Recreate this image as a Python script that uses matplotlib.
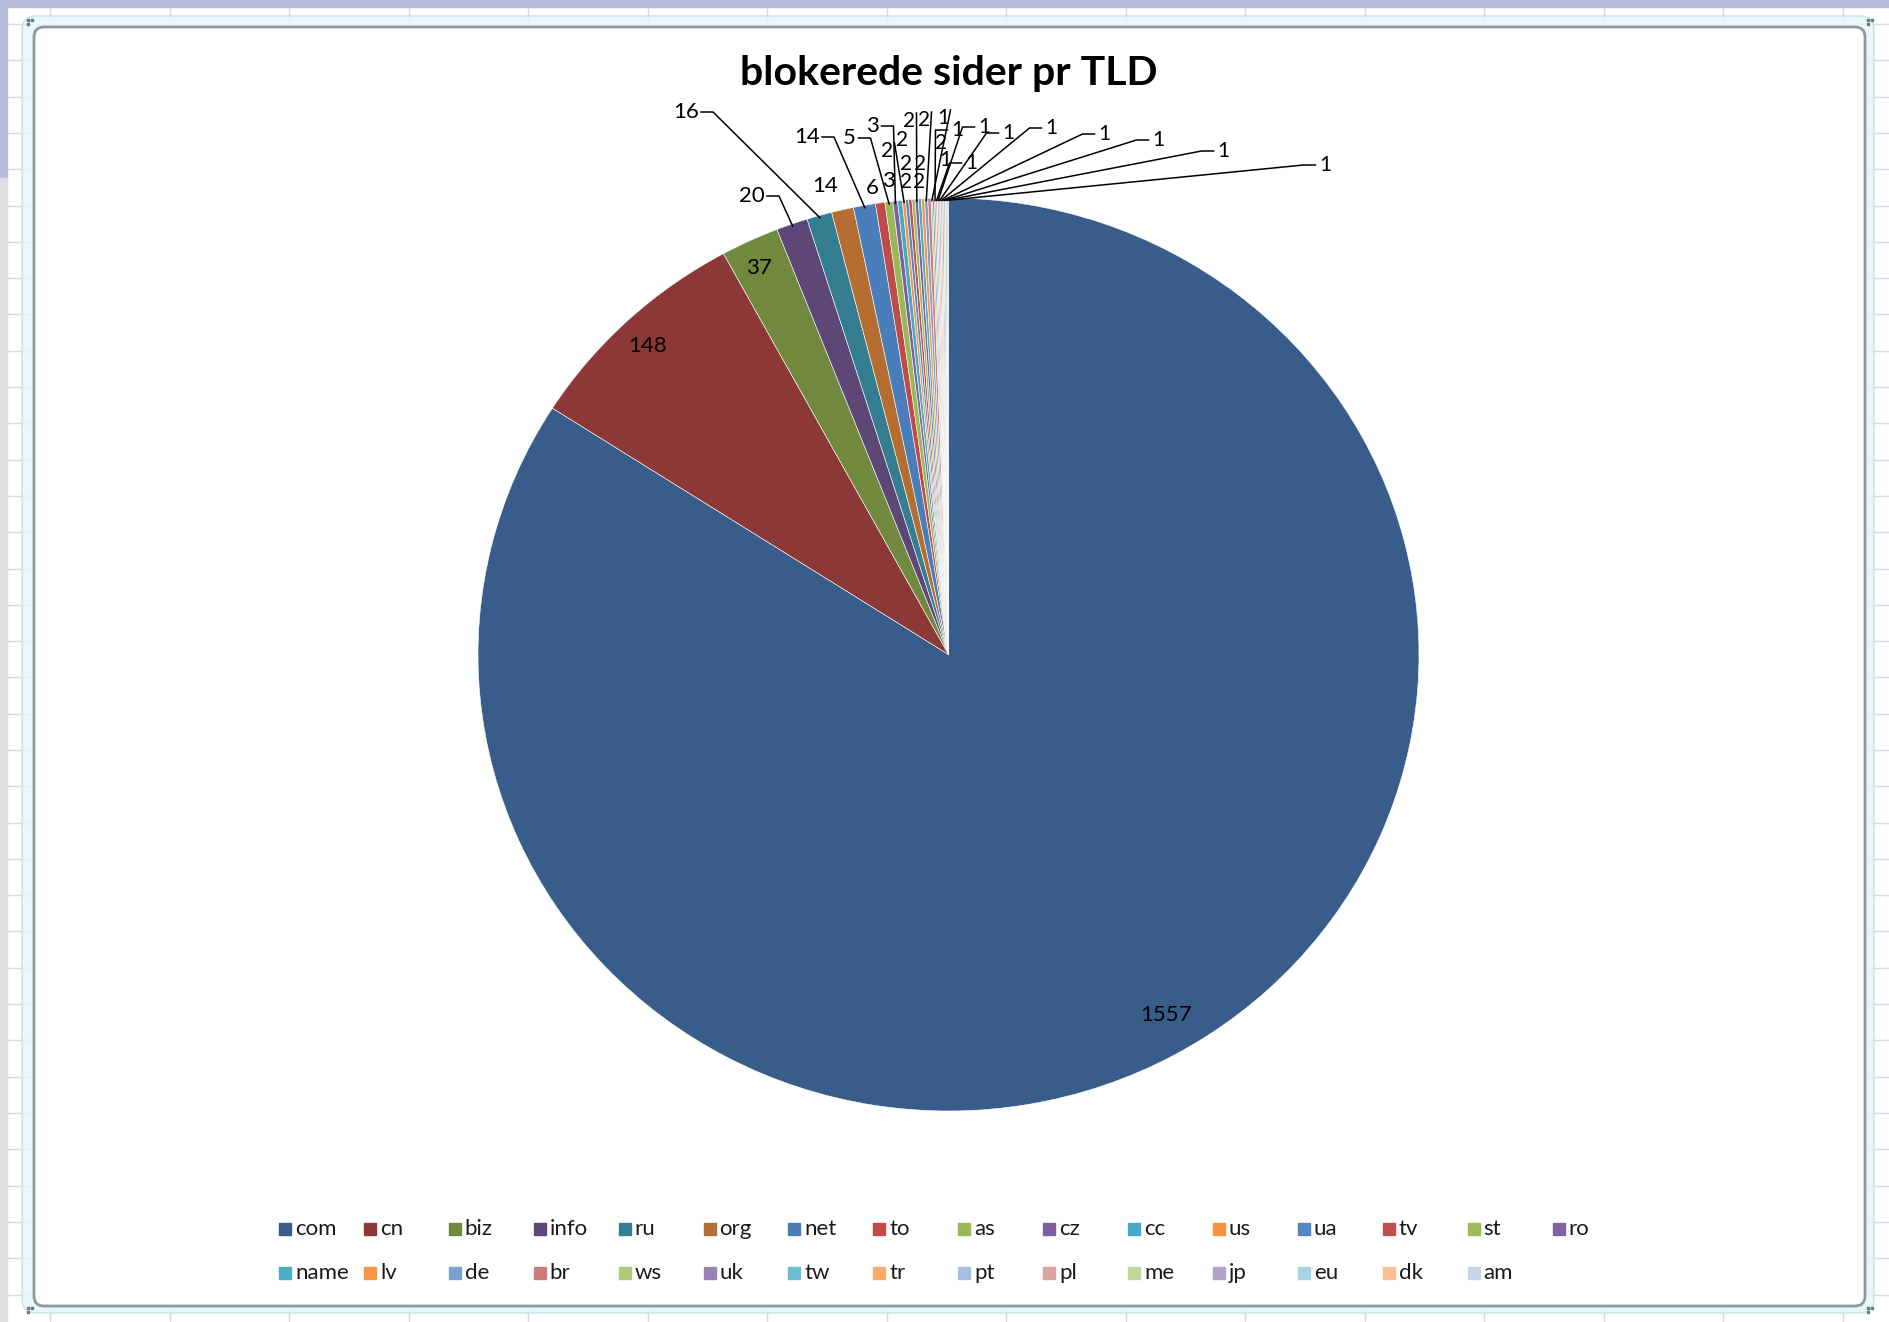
import numpy as np
import matplotlib
matplotlib.use("Agg")
import matplotlib.pyplot as plt
from matplotlib.patches import FancyBboxPatch, Rectangle

# data
tlds = ["com", "cn", "biz", "info", "ru", "org", "net", "to", "as", "cz", "cc", "us", "ua", "tv", "st", "ro",
        "name", "lv", "de", "br", "ws", "uk", "tw", "tr", "pt", "pl", "me", "jp", "eu", "dk", "am"]
counts = [1557, 148, 37, 20, 16, 14, 14, 6, 5, 3, 3, 2, 2, 2, 2, 2,
          2, 2, 2, 2, 1, 1, 1, 1, 1, 1, 1, 1, 1, 1, 1]

colors = ['#385D8A', '#8C3836', '#71893F', '#5C4776', '#357D91', '#B66D31',
          '#4A7EBB', '#BE4B48', '#98B954', '#7D60A0', '#46AAC5', '#F69240',
          '#5286C6', '#C0504D', '#9EBB5E', '#8064A2', '#4BACC6', '#F79646',
          '#7BA0CD', '#CD7B79', '#AFC97A', '#9983B5', '#6FBDD1', '#F9AB6B',
          '#A7BFDE', '#DBA3A2', '#C3D69B', '#B3A2C7', '#A5D5E2', '#FBC08F', '#C9D5E6']

# label spots in screen pixels (x, y from top) and leader style
label_xy = [(1166, 1015), (648, 346), (759, 268), (752, 196), (686, 112), (825, 186),
            (807, 137), (872, 188), (849, 138), (872, 126), (888, 181),
            (887, 151), (906, 182), (902, 140), (906, 164), (909, 121), (919, 182),
            (920, 164), (924, 120), (941, 143),
            (943, 118), (945, 160), (957, 130), (971, 163), (984, 127), (1008, 133),
            (1051, 128), (1104, 134), (1158, 140), (1223, 151), (1325, 165)]
leader = [None, None, None, 'r', 'r', None, 'r', None, 'r', 'r', None,
          'v', None, None, None, 'v', None, None, 'v', None,
          'v', None, 'l', 'l', 'l', 'l', 'l', 'l', 'l', 'l', 'l']

W, H = 1890, 1322
CX, CY, RX, RY = 948.5, 654.5, 470.5, 456.5
FONT = 'Lato'


def to_data(px, py):
    return (px - CX) / RX, (CY - py) / RY


fig = plt.figure(figsize=(W / 100, H / 100), dpi=100)

# sheet background behind the chart
bg = fig.add_axes([0, 0, 1, 1])
bg.set_xlim(0, W)
bg.set_ylim(H, 0)
bg.axis('off')
bg.vlines(np.arange(50, W, 119.5), 0, H, color='#d6dbe2', lw=1, zorder=0)
bg.hlines(np.arange(24, H, 36.3), 0, W, color='#d6dbe2', lw=1, zorder=0)
bg.add_patch(Rectangle((0, 0), W, 7, color='#b8bcdb', zorder=1))
bg.add_patch(Rectangle((0, 0), 7, 178, color='#b8bcdb', zorder=1))
bg.add_patch(Rectangle((0, 178), 7, H - 178, color='#dedede', zorder=1))
bg.add_patch(FancyBboxPatch((22, 16), 1852, 1297, boxstyle="round,pad=0,rounding_size=14",
                            facecolor='#e4f6f9', edgecolor='#c6dde2', lw=1, alpha=0.85, zorder=1))
bg.add_patch(FancyBboxPatch((34, 27), 1831, 1279, boxstyle="round,pad=0,rounding_size=10",
                            facecolor='white', edgecolor='#8e999d', lw=2, zorder=2))
for hx, hy in [(30, 22), (1870, 22), (30, 1310), (1870, 1310)]:
    bg.plot([hx - 2, hx + 2, hx - 2], [hy - 2, hy - 2, hy + 2], 's', color='#6d7678', ms=2, zorder=3)

bg.text(949, 74, 'blokerede sider pr TLD', ha='center', va='center',
        fontsize=29.5, fontweight='bold', family=FONT, color='black', zorder=4)

# legend, two rows like Excel
for i, (name, c) in enumerate(zip(tlds, colors)):
    row, col = divmod(i, 16)
    x = 279 + 84.9 * col
    y = 1229 + 44 * row
    bg.add_patch(Rectangle((x, y - 6), 12, 12, color=c, zorder=4))
    bg.text(x + 16, y, name, ha='left', va='center', fontsize=16, family=FONT,
            color='#1a1a1a', zorder=4)

# pie
ax = fig.add_axes([0, 0, 1, 1])
ax.patch.set_alpha(0)
wedges, _ = ax.pie(counts, colors=colors, startangle=90, counterclock=False, radius=1,
                   wedgeprops=dict(edgecolor='white', linewidth=0.4))
ax.set_aspect('auto')
ax.set_xlim(-CX / RX, (W - CX) / RX)
ax.set_ylim(-(H - CY) / RY, CY / RY)
ax.axis('off')

for i, (px, py) in enumerate(label_xy):
    txt = str(counts[i])
    # the small labels crowd together at the top, like in Excel
    size = 16 if counts[i] > 2 else 15
    ax.text(*to_data(px, py), txt, ha='center', va='center', fontsize=size, family=FONT, color='black')
    style = leader[i]
    if style is None:
        continue
    w = 11 * len(txt)
    mid = np.radians((wedges[i].theta1 + wedges[i].theta2) / 2)
    tx, ty = np.cos(mid) * 0.995, np.sin(mid) * 0.995
    if style == 'r':
        pts = [(px + w / 2 + 4, py), (px + w / 2 + 16, py)]
    elif style == 'l':
        pts = [(px - w / 2 - 4, py), (px - w / 2 - 16, py)]
    else:
        pts = [(px + w / 2 + 2, py - 8)]
    xs = [to_data(*p)[0] for p in pts] + [tx]
    ys = [to_data(*p)[1] for p in pts] + [ty]
    ax.plot(xs, ys, color='black', lw=1.1)

fig.savefig('out.png', dpi=100)
